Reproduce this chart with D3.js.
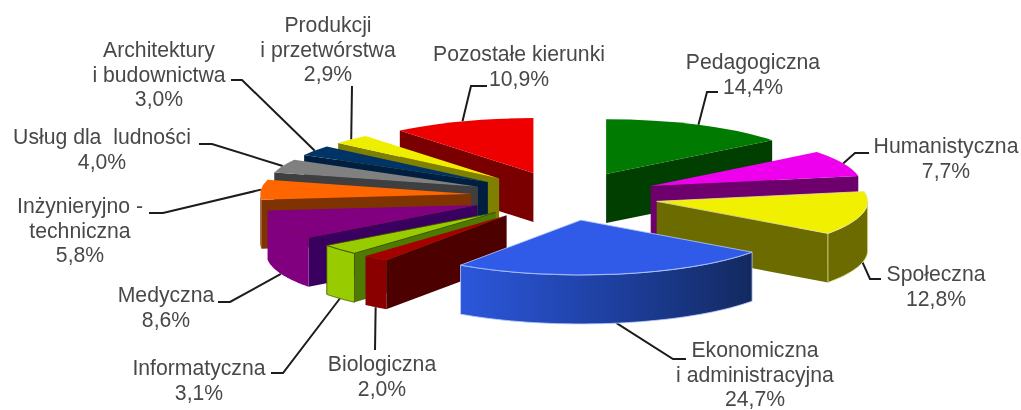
<!DOCTYPE html>
<html>
<head>
<meta charset="UTF-8">
<title>Kierunki</title>
<style type="text/css">
html, body { margin: 0; padding: 0; background: #fff; }
svg { display: block; filter: blur(0.5px); }
.label { font-family: "Liberation Sans", Arial, sans-serif; font-size: 21.2px; fill: #484848; text-anchor: middle; }
.leader { fill: none; stroke: #1c1c1c; stroke-width: 2; }
</style>
</head>
<body>
<script src="https://d3js.org/d3.v7.min.js"></script>
<script type="text/javascript">
// values, clockwise from 12 o'clock
var categories = [
	["Pedagogiczna"],
	["Humanistyczna"],
	["Społeczna"],
	["Ekonomiczna", "i administracyjna"],
	["Biologiczna"],
	["Informatyczna"],
	["Medyczna"],
	["Inżynieryjno -", "techniczna"],
	["Usług dla  ludności"],
	["Architektury", "i budownictwa"],
	["Produkcji", "i przetwórstwa"],
	["Pozostałe kierunki"]
];
var shares = [14.4, 7.7, 12.8, 24.7, 2.0, 3.1, 8.6, 5.8, 4.0, 3.0, 2.9, 10.9];
var shareLabels = ["14,4%", "7,7%", "12,8%", "24,7%", "2,0%", "3,1%", "8,6%", "5,8%", "4,0%", "3,0%", "2,9%", "10,9%"];

// colours: top face, cut walls, outer wall, thin highlight on the edges
var topColors = ["#007a00", "#ee00ee", "#f0f000", "#2f5be8", "#a50000", "#99cc00", "#800080", "#ff6600", "#808080", "#003366", "#eeee00", "#ee0000"];
var wallColors = ["#003f00", "#6e006e", "#6b6b00", "#1a3070", "#4d0000", "#4d7a00", "#3a0060", "#7f3300", "#3f3f3f", "#001f40", "#808000", "#7a0000"];
var outerColors = ["#003f00", "#6e006e", "#6b6b00", "url(#blueSide)", "#8a0000", "#99cc00", "#800080", "#7f3300", "#3f3f3f", "#001f40", "#808000", "#7a0000"];
var edgeColors = ["none", "none", "#e4e49a", "#b9ccff", "none", "#3a4d00", "none", "none", "none", "none", "none", "none"];

// label placement: centre x, first baseline
var labelX = [753, 946, 936, 755, 382, 199, 166, 80, 102, 159, 328, 519];
var labelY = [69, 153, 281, 357, 371, 375, 302, 213, 144, 57, 32, 61];
// leader bends after leaving the rim
var leaderBends = [
	[[707, 92], [718, 92]],
	[[855, 153], [869, 153]],
	[[870, 279], [881, 279]],
	[[673, 359], [686, 359]],
	[[375, 350]],
	[[283, 373], [271, 373]],
	[[230, 302], [218, 302]],
	[[163, 213], [149, 213]],
	[[212, 144], [199, 144]],
	[[242, 80], [231, 80]],
	[[352, 86]],
	[[471, 86], [487, 86]]
];

var width = 1021, height = 410;
var cx = 565, cy = 196, radius = 211, tilt = 0.26, explode = 94, depth = 49, lineHeight = 24.5;

var svg = d3.select("body").append("svg")
	.attr("width", width)
	.attr("height", height);

var grad = svg.append("defs").append("linearGradient")
	.attr("id", "blueSide")
	.attr("gradientUnits", "userSpaceOnUse")
	.attr("x1", 460).attr("x2", 752).attr("y1", 0).attr("y2", 0);
grad.append("stop").attr("offset", "0%").attr("stop-color", "#2c57dc");
grad.append("stop").attr("offset", "55%").attr("stop-color", "#1d3e9c");
grad.append("stop").attr("offset", "100%").attr("stop-color", "#132a60");

var pie = d3.pie().sort(null).value(function(d) { return d; });
var arc = d3.arc().innerRadius(0).outerRadius(radius);
var line = d3.line();

var slices = pie(shares).map(function(p, i) {
	var mid = (p.startAngle + p.endAngle) / 2;
	return {
		i: i,
		a0: p.startAngle,
		a1: p.endAngle,
		mid: mid,
		ax: cx + explode * Math.sin(mid),
		ay: cy - explode * tilt * Math.cos(mid),
		p: p
	};
});

function rim(s, a) {
	return [s.ax + radius * Math.sin(a), s.ay - radius * tilt * Math.cos(a)];
}

// a cut wall going from the apex out to the rim at angle a
function wall(s, a) {
	var r = rim(s, a);
	return line([[s.ax, s.ay], r, [r[0], r[1] + depth], [s.ax, s.ay + depth]]) + "Z";
}

// visible part of the outer wall, only the front half of the ellipse shows
function outer(s) {
	var from = Math.max(s.a0, Math.PI / 2), to = Math.min(s.a1, Math.PI * 3 / 2);
	if (from >= to) return null;
	var angles = d3.range(0, 41).map(function(k) { return from + (to - from) * k / 40; });
	var upper = angles.map(function(a) { return rim(s, a); });
	var lower = upper.map(function(q) { return [q[0], q[1] + depth]; }).reverse();
	return line(upper.concat(lower)) + "Z";
}

// leaders first, the rim covers their start
svg.append("g").selectAll("path")
	.data(slices)
	.enter().append("path")
	.attr("class", "leader")
	.attr("d", function(s) {
		var start = rim(s, s.mid);
		if (Math.cos(s.mid) < 0) start[1] += depth;
		return line([start].concat(leaderBends[s.i]));
	});

// painter's order, back slices first
var ordered = slices.slice().sort(function(a, b) { return Math.cos(b.mid) - Math.cos(a.mid); });

var g = svg.append("g").selectAll("g")
	.data(ordered)
	.enter().append("g");

g.each(function(s) {
	var el = d3.select(this);
	if (Math.sin(s.a0) < 0) {
		el.append("path").attr("d", wall(s, s.a0)).attr("fill", wallColors[s.i]);
	}
	if (Math.sin(s.a1) > 0) {
		el.append("path").attr("d", wall(s, s.a1)).attr("fill", wallColors[s.i]);
	}
	var o = outer(s);
	if (o) {
		el.append("path").attr("d", o)
			.attr("fill", outerColors[s.i])
			.attr("stroke", edgeColors[s.i])
			.attr("stroke-width", 0.8);
	}
	el.append("path")
		.attr("d", arc(s.p))
		.attr("transform", "translate(" + s.ax + "," + s.ay + ") scale(1," + tilt + ")")
		.attr("fill", topColors[s.i])
		.attr("stroke", edgeColors[s.i])
		.attr("stroke-width", 0.8)
		.attr("vector-effect", "non-scaling-stroke");
});

// labels
var labels = svg.append("g").selectAll("text")
	.data(slices)
	.enter().append("text")
	.attr("class", "label")
	.attr("x", function(s) { return labelX[s.i]; })
	.attr("y", function(s) { return labelY[s.i]; });

labels.selectAll("tspan")
	.data(function(s) { return categories[s.i].concat(shareLabels[s.i]).map(function(t) { return { t: t, s: s }; }); })
	.enter().append("tspan")
	.attr("x", function(d) { return labelX[d.s.i]; })
	.attr("y", function(d, k) { return labelY[d.s.i] + k * lineHeight; })
	.style("white-space", "pre")
	.text(function(d) { return d.t; });
</script>
</body>
</html>
